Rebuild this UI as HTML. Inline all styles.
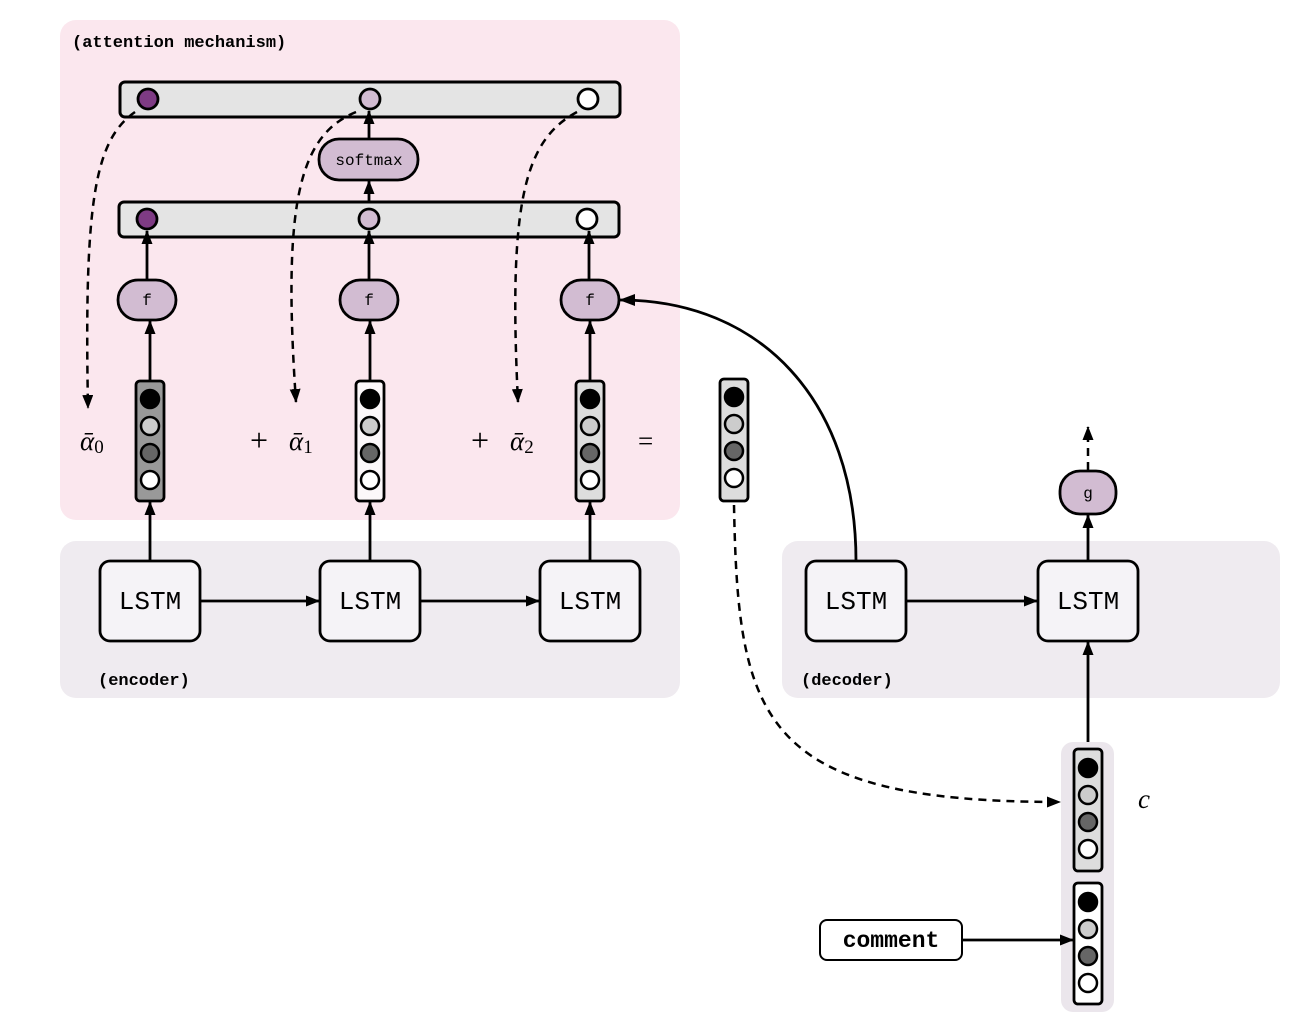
<!DOCTYPE html>
<html><head><meta charset="utf-8"><style>body{margin:0;background:#fff}svg{display:block}</style></head><body>
<svg width="1300" height="1034" viewBox="0 0 1300 1034" xmlns="http://www.w3.org/2000/svg">
<defs>
<marker id="a" markerWidth="14" markerHeight="11" refX="13" refY="5.5" orient="auto" markerUnits="userSpaceOnUse"><path d="M0,0 L14,5.5 L0,11 z" fill="#000"/></marker>
<marker id="b" markerWidth="16" markerHeight="12" refX="15" refY="6" orient="auto" markerUnits="userSpaceOnUse"><path d="M0,0 L16,6 L0,12 z" fill="#000"/></marker>
</defs>
<rect x="60" y="20" width="620" height="500" rx="16" fill="#fbe7ee"/>
<rect x="60" y="541" width="620" height="157" rx="16" fill="#efebf0"/>
<rect x="782" y="541" width="498" height="157" rx="16" fill="#efebf0"/>
<g font-family="Liberation Mono, monospace" font-weight="bold" font-size="17">
<text x="72" y="47">(attention mechanism)</text>
<text x="98" y="685">(encoder)</text>
<text x="801" y="685">(decoder)</text>
</g>
<rect x="1061" y="742" width="53" height="270" rx="12" fill="#ebe6ec"/>
<!-- bars -->
<rect x="120" y="82" width="500" height="35" rx="5" fill="#e4e4e4" stroke="#000" stroke-width="3"/>
<rect x="119" y="202" width="500" height="35" rx="5" fill="#e4e4e4" stroke="#000" stroke-width="3"/>
<g stroke="#000" stroke-width="2.8">
<circle cx="148" cy="99" r="10" fill="#7e3b84"/><circle cx="370" cy="99" r="10" fill="#d2bcd2"/><circle cx="588" cy="99" r="10" fill="#fff"/>
<circle cx="147" cy="219" r="10" fill="#7e3b84"/><circle cx="369" cy="219" r="10" fill="#d2bcd2"/><circle cx="587" cy="219" r="10" fill="#fff"/>
</g>
<g stroke="#000" stroke-width="2.8" fill="none">
<line x1="369" y1="139" x2="369" y2="111" marker-end="url(#a)"/>
<line x1="369" y1="202" x2="369" y2="181" marker-end="url(#a)"/>
<line x1="147" y1="280" x2="147" y2="231" marker-end="url(#a)"/>
<line x1="369" y1="280" x2="369" y2="231" marker-end="url(#a)"/>
<line x1="589" y1="280" x2="589" y2="231" marker-end="url(#a)"/>
<line x1="150" y1="381" x2="150" y2="321" marker-end="url(#a)"/>
<line x1="370" y1="381" x2="370" y2="321" marker-end="url(#a)"/>
<line x1="590" y1="381" x2="590" y2="321" marker-end="url(#a)"/>
<line x1="150" y1="561" x2="150" y2="502" marker-end="url(#a)"/>
<line x1="370" y1="561" x2="370" y2="502" marker-end="url(#a)"/>
<line x1="590" y1="561" x2="590" y2="502" marker-end="url(#a)"/>
<line x1="200" y1="601" x2="319" y2="601" marker-end="url(#a)"/>
<line x1="420" y1="601" x2="539" y2="601" marker-end="url(#a)"/>
<line x1="906" y1="601" x2="1037" y2="601" marker-end="url(#a)"/>
<line x1="1088" y1="561" x2="1088" y2="515" marker-end="url(#a)"/>
<line x1="1088" y1="742" x2="1088" y2="642" marker-end="url(#a)"/>
<line x1="962" y1="940" x2="1073" y2="940" marker-end="url(#a)"/>
<path d="M856 561 C 856 400, 760 300, 620 300" marker-end="url(#b)"/>
</g>
<g stroke="#000" stroke-width="2.5" fill="none" stroke-dasharray="8,6">
<path d="M135 112 C 95 140, 84 200, 88 408" marker-end="url(#a)"/>
<path d="M356 112 C 300 135, 282 200, 296 402" marker-end="url(#a)"/>
<path d="M577 112 C 525 140, 508 200, 518 402" marker-end="url(#a)"/>
<path d="M734 505 C 738 720, 760 802, 1060 802" marker-end="url(#a)"/>
<line x1="1088" y1="470" x2="1088" y2="427" marker-end="url(#a)"/>
</g>
<g stroke="#000" stroke-width="2.8" fill="#d2bcd2">
<rect x="319" y="139" width="99" height="41" rx="20"/>
<rect x="118" y="280" width="58" height="40" rx="20"/>
<rect x="340" y="280" width="58" height="40" rx="20"/>
<rect x="561" y="280" width="58" height="40" rx="20"/>
<rect x="1060" y="471" width="56" height="43" rx="20"/>
</g>
<g font-family="Liberation Mono, monospace" font-size="16" text-anchor="middle">
<text x="369" y="165">softmax</text>
<text x="147" y="305">f</text><text x="369" y="305">f</text><text x="590" y="305">f</text>
<text x="1088" y="498">g</text>
</g>
<g stroke="#000" stroke-width="2.8">
<rect x="136" y="381" width="28" height="120" rx="4" fill="#999"/>
<rect x="356" y="381" width="28" height="120" rx="4" fill="#fcf8fa"/>
<rect x="576" y="381" width="28" height="120" rx="4" fill="#ddd"/>
<rect x="720" y="379" width="28" height="122" rx="4" fill="#ddd"/>
<rect x="1074" y="749" width="28" height="122" rx="4" fill="#ddd"/>
<rect x="1074" y="883" width="28" height="121" rx="4" fill="#fff"/>
</g>
<g stroke="#000" stroke-width="2.5">
<g transform="translate(150,0)"><circle cy="399" r="9" fill="#000"/><circle cy="426" r="9" fill="#ccc"/><circle cy="453" r="9" fill="#666"/><circle cy="480" r="9" fill="#fff"/></g>
<g transform="translate(370,0)"><circle cy="399" r="9" fill="#000"/><circle cy="426" r="9" fill="#ccc"/><circle cy="453" r="9" fill="#666"/><circle cy="480" r="9" fill="#fff"/></g>
<g transform="translate(590,0)"><circle cy="399" r="9" fill="#000"/><circle cy="426" r="9" fill="#ccc"/><circle cy="453" r="9" fill="#666"/><circle cy="480" r="9" fill="#fff"/></g>
<g transform="translate(734,-2)"><circle cy="399" r="9" fill="#000"/><circle cy="426" r="9" fill="#ccc"/><circle cy="453" r="9" fill="#666"/><circle cy="480" r="9" fill="#fff"/></g>
<g transform="translate(1088,369)"><circle cy="399" r="9" fill="#000"/><circle cy="426" r="9" fill="#ccc"/><circle cy="453" r="9" fill="#666"/><circle cy="480" r="9" fill="#fff"/></g>
<g transform="translate(1088,503)"><circle cy="399" r="9" fill="#000"/><circle cy="426" r="9" fill="#ccc"/><circle cy="453" r="9" fill="#666"/><circle cy="480" r="9" fill="#fff"/></g>
</g>
<g stroke="#000" stroke-width="2.8" fill="#f5f3f7">
<rect x="100" y="561" width="100" height="80" rx="10"/>
<rect x="320" y="561" width="100" height="80" rx="10"/>
<rect x="540" y="561" width="100" height="80" rx="10"/>
<rect x="806" y="561" width="100" height="80" rx="10"/>
<rect x="1038" y="561" width="100" height="80" rx="10"/>
</g>
<g font-family="Liberation Mono, monospace" font-size="26" text-anchor="middle">
<text x="150" y="609">LSTM</text><text x="370" y="609">LSTM</text><text x="590" y="609">LSTM</text><text x="856" y="609">LSTM</text><text x="1088" y="609">LSTM</text>
</g>
<rect x="820" y="920" width="142" height="40" rx="7" fill="#fff" stroke="#000" stroke-width="2"/>
<text x="891" y="947" font-family="Liberation Mono, monospace" font-weight="bold" font-size="23" text-anchor="middle">comment</text>
<g font-family="Liberation Serif, serif" font-size="27">
<text x="80" y="450"><tspan font-style="italic">ᾱ</tspan><tspan font-size="19" dy="3">0</tspan></text>
<text x="250" y="451" font-size="32">+</text>
<text x="289" y="450"><tspan font-style="italic">ᾱ</tspan><tspan font-size="19" dy="3">1</tspan></text>
<text x="471" y="451" font-size="32">+</text>
<text x="510" y="450"><tspan font-style="italic">ᾱ</tspan><tspan font-size="19" dy="3">2</tspan></text>
<text x="638" y="450">=</text>
<text x="1138" y="808" font-style="italic">c</text>
</g>
</svg>
</body></html>
